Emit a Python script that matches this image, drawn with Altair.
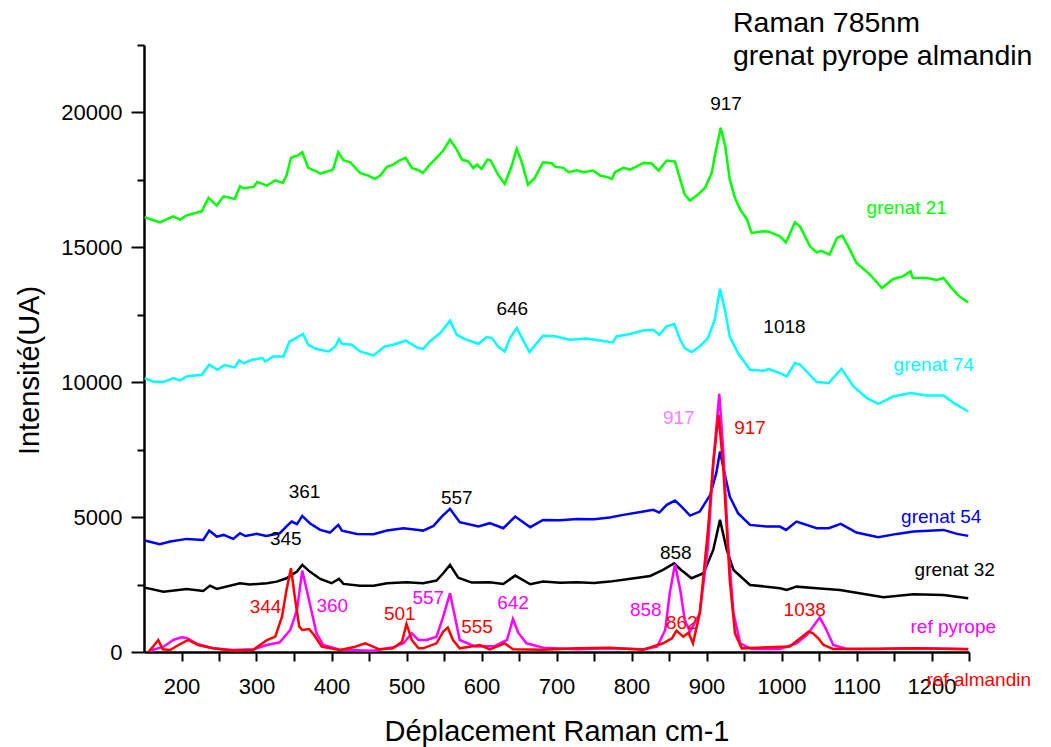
import altair as alt
import pandas as pd

FONT = "Liberation Sans"

# ---- spectra (x = Raman shift cm-1, y = intensity) ----
GRENAT_21 = [(151,16113),(171,15927),(189,16150),(198,16027),(207,16187),(227,16335),(236,16832),(247,16547),(256,16892),(271,16795),(278,17263),(283,17189),(296,17240),(301,17426),(314,17289),(325,17486),(335,17388),(340,17660),(346,18316),(351,18375),(355,18400),(361,18524),(369,17945),(380,17820),(385,17730),(402,17882),(409,18524),(416,18227),(425,18153),(438,17760),(449,17660),(458,17537),(465,17660),(474,17982),(482,18068),(491,18227),(499,18316),(507,17945),(516,17857),(522,17760),(531,18068),(540,18316),(549,18587),(558,18995),(567,18624),(574,18253),(582,18190),(589,17945),(594,18068),(600,17907),(608,18253),(612,18227),(622,17697),(631,17351),(640,18005),(647,18650),(654,18130),(662,17326),(671,17574),(682,18153),(694,18120),(698,17990),(709,17945),(716,17783),(727,17857),(736,17783),(749,17845),(758,17660),(767,17610),(774,17537),(778,17783),(789,17945),(798,17882),(807,18005),(816,18130),(827,18105),(836,17845),(847,18216),(858,18179),(865,17512),(871,16955),(878,16732),(887,16918),(898,17203),(907,17760),(911,18375),(919,19429),(925,18747),(931,17512),(938,16832),(945,16398),(954,16027),(960,15533),(976,15593),(983,15580),(998,15408),(1006,15185),(1018,15927),(1025,15760),(1038,15037),(1047,14815),(1053,14870),(1064,14729),(1074,15347),(1081,15434),(1089,15037),(1100,14420),(1118,13987),(1134,13493),(1149,13827),(1162,13924),(1172,14110),(1175,13870),(1194,13864),(1207,13790),(1216,13864),(1225,13553),(1236,13208),(1249,12960)]

GRENAT_74 = [(151,10155),(162,10028),(176,10006),(189,10155),(198,10070),(207,10214),(227,10277),(237,10648),(248,10462),(257,10636),(271,10548),(277,10808),(283,10710),(294,10833),(308,10895),(312,10770),(322,10956),(336,10956),(344,11512),(349,11580),(362,11787),(369,11390),(380,11230),(396,11141),(405,11326),(410,11599),(414,11425),(427,11390),(438,11141),(456,10994),(471,11326),(482,11390),(499,11538),(514,11289),(522,11230),(531,11512),(545,11824),(558,12280),(567,11761),(578,11599),(596,11427),(607,11676),(614,11637),(622,11326),(631,11141),(638,11637),(647,12009),(654,11637),(664,11117),(670,11326),(682,11724),(698,11700),(718,11575),(740,11624),(758,11550),(775,11475),(780,11698),(798,11785),(816,11921),(829,11946),(837,11761),(847,12069),(857,12157),(865,11575),(871,11267),(880,11119),(891,11326),(902,11638),(911,12317),(918,13467),(925,12626),(931,11698),(942,11082),(958,10462),(976,10424),(983,10490),(998,10339),(1007,10214),(1018,10709),(1025,10648),(1047,10006),(1063,9970),(1080,10499),(1096,9843),(1114,9412),(1129,9201),(1149,9472),(1172,9598),(1194,9511),(1216,9510),(1230,9225),(1249,8916)]

GRENAT_54 = [(151,4130),(171,3995),(185,4093),(207,4193),(229,4155),(237,4500),(247,4278),(256,4340),(269,4193),(278,4402),(285,4300),(300,4378),(313,4300),(331,4402),(342,4712),(347,4834),(354,4737),(361,5046),(371,4775),(385,4526),(398,4427),(409,4712),(414,4500),(434,4378),(456,4366),(474,4500),(496,4588),(516,4526),(522,4500),(536,4675),(547,5020),(558,5305),(571,4812),(596,4650),(611,4775),(629,4588),(645,5020),(665,4626),(682,4897),(705,4880),(727,4934),(750,4920),(771,4983),(789,5083),(816,5205),(829,5268),(837,5168),(847,5454),(858,5613),(866,5410),(878,5057),(891,5205),(905,5825),(913,6630),(918,7431),(925,6504),(931,5762),(942,5146),(958,4712),(980,4650),(998,4650),(1006,4526),(1020,4834),(1047,4588),(1063,4588),(1079,4749),(1100,4427),(1129,4254),(1154,4378),(1176,4470),(1216,4526),(1234,4378),(1249,4304)]

GRENAT_32 = [(151,2386),(176,2237),(207,2337),(229,2263),(238,2460),(247,2337),(278,2549),(291,2500),(314,2549),(327,2609),(340,2734),(354,2979),(361,3228),(371,2979),(385,2708),(400,2549),(410,2708),(416,2524),(438,2460),(456,2460),(474,2549),(500,2586),(522,2549),(540,2647),(549,2920),(558,3228),(569,2757),(587,2572),(611,2586),(629,2523),(645,2832),(665,2512),(682,2609),(705,2570),(727,2586),(750,2560),(771,2609),(794,2697),(825,2820),(842,3043),(857,3290),(865,3068),(880,2734),(896,2920),(909,3784),(918,4897),(927,3784),(936,3042),(958,2486),(980,2423),(998,2363),(1007,2300),(1020,2423),(1047,2363),(1078,2300),(1104,2176),(1136,2029),(1176,2140),(1216,2115),(1249,1992)]

REF_PYROPE = [(158,48),(176,197),(189,445),(200,545),(207,520),(222,286),(242,137),(269,75),(296,100),(314,260),(331,360),(345,816),(354,1558),(361,3016),(367,2300),(374,1434),(380,693),(389,260),(411,87),(456,50),(482,173),(496,322),(507,693),(516,445),(527,445),(540,568),(549,1310),(558,2178),(565,1250),(571,445),(592,200),(618,225),(634,445),(642,1224),(649,716),(660,322),(682,162),(727,100),(771,137),(816,100),(834,197),(845,816),(851,2178),(858,3265),(865,2300),(871,1187),(878,754),(891,1434),(902,3907),(909,7001),(917,9572),(922,7617),(929,3907),(936,1434),(945,322),(960,110),(998,110),(1020,322),(1034,631),(1042,940),(1051,1286),(1060,816),(1069,260),(1087,110),(1131,110),(1176,135),(1249,110)]

REF_ALMANDIN = [(156,10),(162,197),(169,445),(175,100),(185,75),(196,260),(209,445),(222,260),(242,137),(269,50),(296,87),(314,445),(325,568),(334,1310),(340,2300),(346,3105),(351,2053),(357,940),(361,816),(370,853),(377,620),(387,197),(411,75),(429,173),(445,322),(464,100),(482,137),(494,383),(500,1039),(507,445),(516,137),(522,137),(540,322),(549,754),(555,903),(562,445),(571,137),(598,260),(611,100),(631,322),(642,100),(682,87),(727,137),(771,162),(816,87),(842,322),(854,507),(860,791),(869,569),(876,716),(882,322),(891,1434),(902,4526),(909,7001),(916,8793),(922,7001),(931,2671),(938,693),(947,135),(1011,200),(1025,507),(1036,754),(1042,690),(1049,507),(1056,260),(1069,110),(1131,120),(1176,140),(1249,100)]

SERIES_NAMES = ["grenat 21", "grenat 74", "grenat 54", "grenat 32", "ref pyrope", "ref almandin"]
SERIES_DATA = [GRENAT_21, GRENAT_74, GRENAT_54, GRENAT_32, REF_PYROPE, REF_ALMANDIN]
SERIES_COLORS = ["#00ff00", "#00ffff", "#0000ff", "#000000", "#ff00ff", "#ff0000"]

# ---- annotations: text, x, y, colour ----
LABEL_TEXT = ["917", "grenat 21", "646", "1018", "grenat 74", "917", "917", "361", "557",
              "grenat 54", "345", "858", "grenat 32", "344", "360", "501", "557", "555",
              "642", "858", "862", "1038", "ref pyrope", "ref almandin"]
LABEL_X = [926, 1167, 641, 1004, 1203, 863, 958, 364, 567,
           1213, 339, 859, 1231, 312, 401, 491, 529, 594,
           642, 819, 867, 1031, 1229, 1263]
LABEL_Y = [20330, 16470, 12725, 12060, 10650, 8680, 8310, 5936, 5713,
           5010, 4192, 3673, 3042, 1670, 1707, 1410, 2003, 927,
           1818, 1558, 1076, 1558, 927, -1040]
LABEL_COLOR = ["#000000", "#00ff00", "#000000", "#000000", "#00ffff", "#ff80ff", "#ff0000",
               "#000000", "#000000", "#0000ff", "#000000", "#000000", "#000000", "#ff0000",
               "#ff00ff", "#ff0000", "#ff00ff", "#ff0000", "#ff00ff", "#ff00ff", "#ff0000",
               "#ff0000", "#ff00ff", "#ff0000"]

TITLE_LINES = ["Raman 785nm", "grenat pyrope almandin"]

X_TICKS = list(range(200, 1251, 50))
Y_TICKS = list(range(0, 22501, 2500))

W, H = 825, 607

rows = []
for s_i, (name, pts) in enumerate(zip(SERIES_NAMES, SERIES_DATA)):
    for k, (xv, yv) in enumerate(pts):
        rows.append({"s": name, "x": xv, "y": yv, "o": k})
lines_df = pd.DataFrame(rows)

x_scale = alt.Scale(domain=[150, 1250], nice=False, zero=False)
y_scale = alt.Scale(domain=[0, 22500], nice=False)

x_axis = alt.Axis(
    values=X_TICKS, labelExpr="datum.value % 100 === 0 ? datum.label : ''",
    title="Déplacement Raman cm-1", grid=False, tickSize=9, tickWidth=2,
    domainWidth=2.5, domainColor="black", tickColor="black",
    labelFont=FONT, labelFontSize=22, labelColor="black", labelPadding=15,
    titleFont=FONT, titleFontSize=29, titleFontWeight="normal", titleColor="black",
    titleY=88, titleBaseline="alphabetic", format="d", labelFlush=False,
)
y_axis = alt.Axis(
    values=Y_TICKS, labelExpr="datum.value % 5000 === 0 ? datum.label : ''",
    title="Intensité(UA)", grid=False,
    tickSize={"condition": {"test": "datum.value % 5000 === 0", "value": 13}, "value": 7},
    tickWidth=2, domainWidth=2.5, domainColor="black", tickColor="black",
    labelFont=FONT, labelFontSize=22, labelColor="black", labelPadding=9,
    titleFont=FONT, titleFontSize=29, titleFontWeight="normal", titleColor="black",
    titleX=-115, titleY=325, titleBaseline="middle", titleAlign="center",
    format="d", labelFlush=False,
)

X_ENC = alt.X("x:Q", scale=x_scale, axis=x_axis)
Y_ENC = alt.Y("y:Q", scale=y_scale, axis=y_axis)

lines = alt.Chart(lines_df).mark_line(strokeWidth=2.5).encode(
    x=X_ENC, y=Y_ENC,
    color=alt.Color("s:N", scale=alt.Scale(domain=SERIES_NAMES, range=SERIES_COLORS), legend=None),
    order="o:Q",
)

lab_df = pd.DataFrame({"t": LABEL_TEXT, "x": LABEL_X, "y": LABEL_Y, "c": LABEL_COLOR})
labels = alt.Chart(lab_df).mark_text(font=FONT, fontSize=19, baseline="middle", align="center").encode(
    x=X_ENC, y=Y_ENC,
    text="t:N",
    fill=alt.Fill("c:N", scale=None),
)

t1 = alt.Chart(pd.DataFrame({"t": [TITLE_LINES[0]]})).mark_text(
    font=FONT, fontSize=28.5, align="left", baseline="alphabetic", color="black"
).encode(text="t:N", x=alt.value(589), y=alt.value(-13))
t2 = alt.Chart(pd.DataFrame({"t": [TITLE_LINES[1]]})).mark_text(
    font=FONT, fontSize=28.5, align="left", baseline="alphabetic", color="black"
).encode(text="t:N", x=alt.value(589), y=alt.value(20))

chart = alt.layer(lines, labels, t1, t2).properties(
    width=W, height=H,
    autosize=alt.AutoSizeParams(type="none"),
    padding={"left": 144, "top": 45, "right": 82, "bottom": 95},
    background="white",
).configure_view(stroke=None)

chart.save("out.html", embed_options={"renderer": "svg", "actions": False})
